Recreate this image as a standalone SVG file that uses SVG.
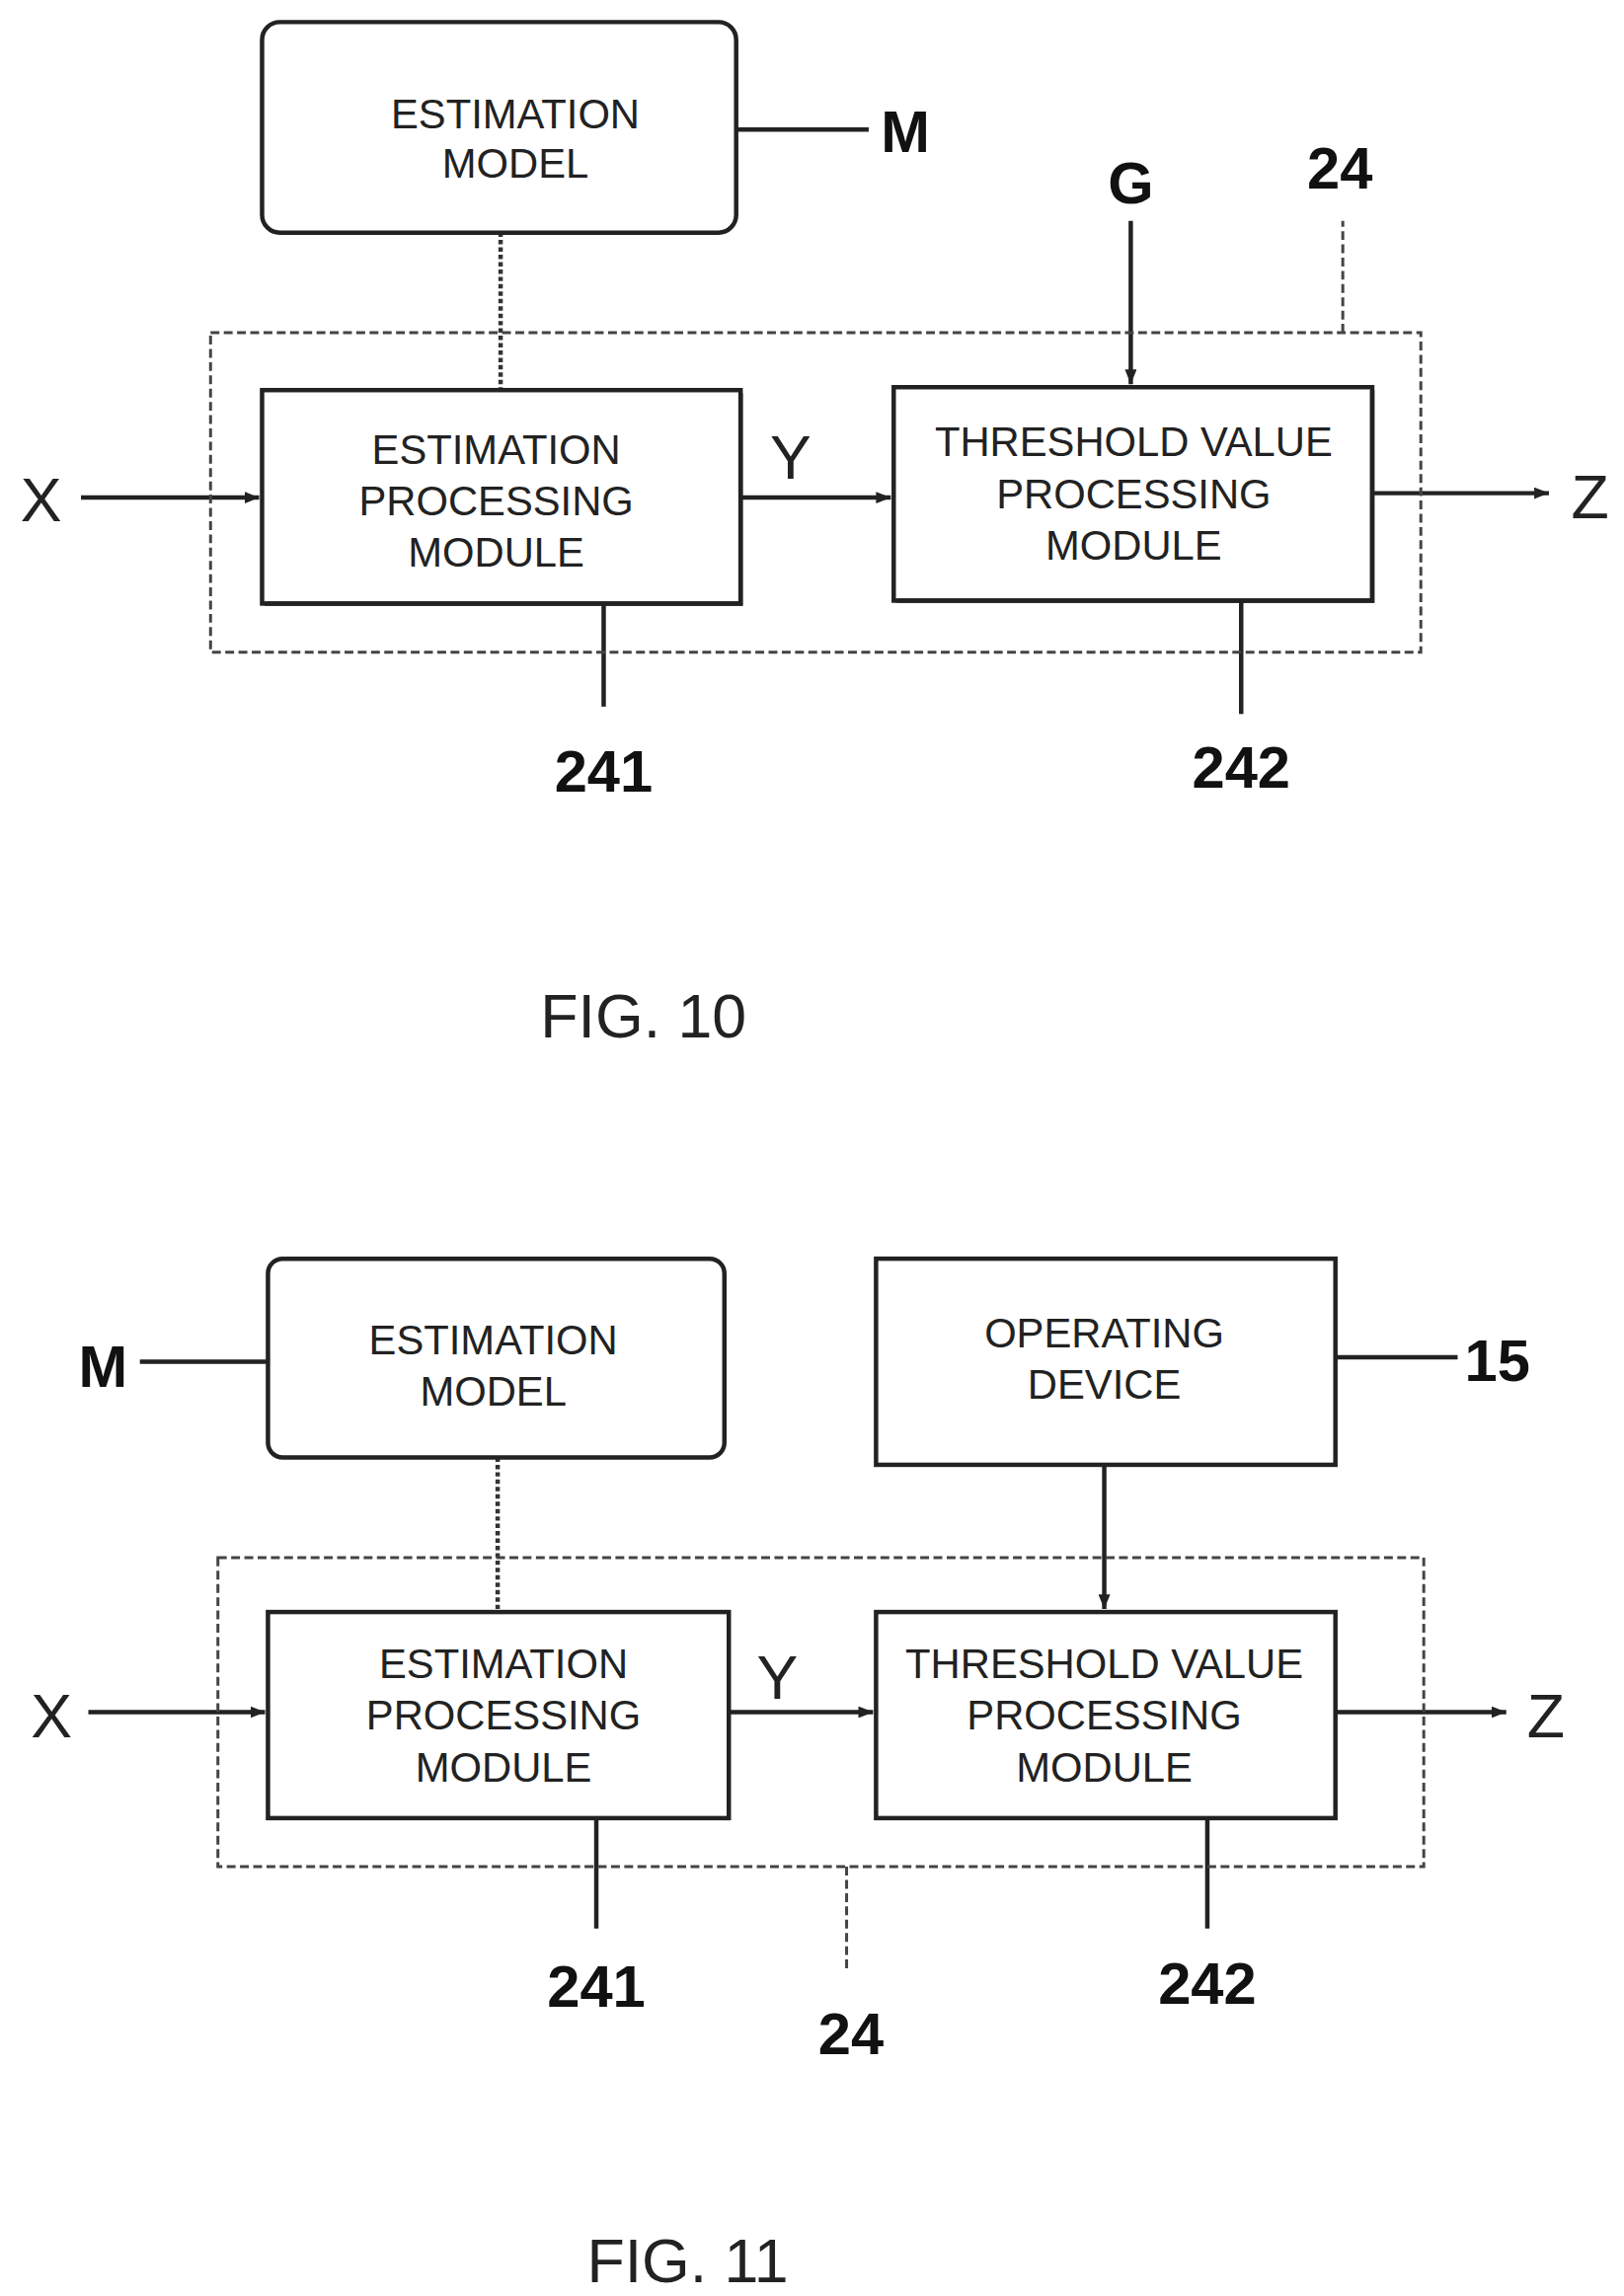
<svg xmlns="http://www.w3.org/2000/svg" width="1645" height="2326" viewBox="0 0 1645 2326">
<style>
.b{fill:#fff;stroke:#222;stroke-width:3}
.t{font-family:"Liberation Sans",Arial,sans-serif;font-size:28px;text-anchor:middle;fill:#222}
.l{font-family:"Liberation Sans",Arial,sans-serif;font-size:40px;font-weight:bold;text-anchor:middle;fill:#111}
.f{font-family:"Liberation Sans",Arial,sans-serif;font-size:42px;text-anchor:middle;fill:#222}
.c{stroke:#222;stroke-width:3;fill:none}
.d{stroke:#444;stroke-width:2;fill:none;stroke-dasharray:6,3}
.dot{stroke:#333;stroke-width:3;fill:none;stroke-dasharray:3,2}
</style>
<defs><marker id="a" markerWidth="10" markerHeight="8" refX="10" refY="4" orient="auto" markerUnits="userSpaceOnUse"><path d="M0,0L10,4L0,8z" fill="#222"/></marker></defs>
<rect width="1645" height="2326" fill="#fff"/>
<g transform="scale(1.4914)">
<g id="connectors">
<path class="c" d="M500,88 H590"/>
<path class="d" d="M912,226 V150"/>
<path class="dot" d="M340,158 V265"/>
<path class="c" d="M55,338 H176" marker-end="url(#a)"/>
<path class="c" d="M503,338 H605" marker-end="url(#a)"/>
<path class="c" d="M768,150 V261" marker-end="url(#a)"/>
<path class="c" d="M932,335 H1052" marker-end="url(#a)"/>
<path class="c" d="M410,410 V480"/>
<path class="c" d="M843,408 V485"/>
<path class="c" d="M95,925 H182"/>
<path class="c" d="M907,922 H990"/>
<path class="dot" d="M338,990 V1095"/>
<path class="c" d="M750,995 V1093" marker-end="url(#a)"/>
<path class="c" d="M60,1163 H180" marker-end="url(#a)"/>
<path class="c" d="M495,1163 H593" marker-end="url(#a)"/>
<path class="c" d="M907,1163 H1023" marker-end="url(#a)"/>
<path class="c" d="M405,1235 V1310"/>
<path class="d" d="M575,1268 V1340"/>
<path class="c" d="M820,1235 V1310"/>
</g>
<g id="g24a"><rect class="d" x="143" y="226" width="822" height="217"/></g>
<g id="modelA"><rect class="b" x="178" y="15" width="322" height="143" rx="12"/><text class="t" x="350" y="87">ESTIMATION</text><text class="t" x="350" y="121">MODEL</text></g>
<g id="estA"><rect class="b" x="178" y="265" width="325" height="145"/><path class="c" d="M180,410 H503 V267"/><text class="t" x="337" y="315">ESTIMATION</text><text class="t" x="337" y="350">PROCESSING</text><text class="t" x="337" y="385">MODULE</text></g>
<g id="thrA"><rect class="b" x="607" y="263" width="325" height="145"/><path class="c" d="M609,408 H932 V265"/><text class="t" x="770" y="310">THRESHOLD VALUE</text><text class="t" x="770" y="345">PROCESSING</text><text class="t" x="770" y="380">MODULE</text></g>
<g id="labelsA">
<text class="l" x="615" y="103">M</text><text class="l" x="910" y="128">24</text><text class="l" x="768" y="138">G</text>
<text class="f" x="28" y="354">X</text><text class="f" x="537" y="325">Y</text><text class="f" x="1080" y="352">Z</text>
<text class="l" x="410" y="538">241</text><text class="l" x="843" y="535">242</text>
<text class="f" x="437" y="705">FIG. 10</text></g>
<g id="g24b"><rect class="d" x="148" y="1058" width="819" height="210"/></g>
<g id="modelB"><rect class="b" x="182" y="855" width="310" height="135" rx="10"/><text class="t" x="335" y="920">ESTIMATION</text><text class="t" x="335" y="955">MODEL</text></g>
<g id="opB"><rect class="b" x="595" y="855" width="312" height="140"/><text class="t" x="750" y="915">OPERATING</text><text class="t" x="750" y="950">DEVICE</text></g>
<g id="estB"><rect class="b" x="182" y="1095" width="313" height="140"/><text class="t" x="342" y="1140">ESTIMATION</text><text class="t" x="342" y="1175">PROCESSING</text><text class="t" x="342" y="1210">MODULE</text></g>
<g id="thrB"><rect class="b" x="595" y="1095" width="312" height="140"/><text class="t" x="750" y="1140">THRESHOLD VALUE</text><text class="t" x="750" y="1175">PROCESSING</text><text class="t" x="750" y="1210">MODULE</text></g>
<g id="labelsB">
<text class="l" x="70" y="942">M</text><text class="l" x="1017" y="938">15</text>
<text class="f" x="35" y="1180">X</text><text class="f" x="528" y="1154">Y</text><text class="f" x="1050" y="1180">Z</text>
<text class="l" x="405" y="1363">241</text><text class="l" x="578" y="1395">24</text><text class="l" x="820" y="1361">242</text>
<text class="f" x="467" y="1550">FIG. 11</text></g>
</g>
</svg>
